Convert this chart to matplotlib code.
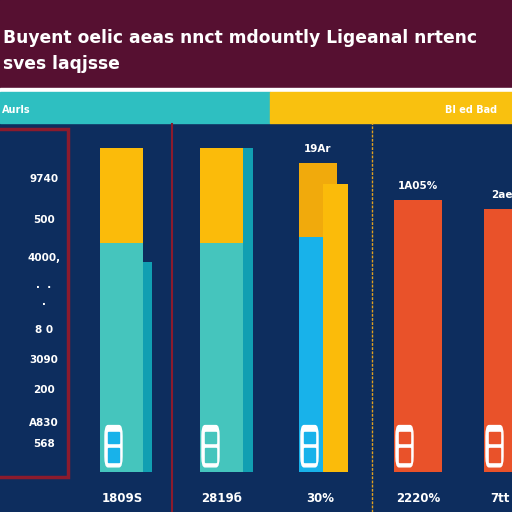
import matplotlib
matplotlib.use("Agg")
import matplotlib.pyplot as plt
from matplotlib.patches import Rectangle, FancyBboxPatch

# data (0 = bar base, 100 = top of panel)
teal_vals = [66.6, 66.6]
yellow_vals = [27.6, 27.6]
shadow_vals = [61.0, 94.2]
mid_back = 89.8
mid_front = 83.7
mid_blue = 68.3
red_vals = [79.1, 76.5]
top_labels = ["19Ar", "1A05%", "2ae"]
bottom_labels = ["1809S", "2819б", "30%", "2220%", "7tt"]
axis_labels = ["9740", "500", "4000,", ".  .", ".", "8 0", "3090", "200", "A830", "568"]
title_lines = ["Buyent oelic aeas nnct mdountly Ligeanal nrtenc", "sves laqjsse"]
band_left = "Aurls"
band_right = "Bl ed Bad"

W = 512.0
maroon = "#561031"
navy = "#0d2d5e"
teal = "#45c5bd"
dteal = "#119fb2"
yellow = "#fbbb0a"
yellow2 = "#f1aa0c"
blue = "#18b2ea"
orange = "#e9522a"
redline = "#8c1b2d"


def fx(px):
    return px / W


def fy(py):
    return 1 - py / W


fig = plt.figure(figsize=(5.12, 5.12), dpi=100)
fig.patch.set_facecolor(navy)

# header bands
fig.patches.append(Rectangle((0, fy(88)), 1, 88 / W, transform=fig.transFigure, color=maroon, zorder=0))
fig.patches.append(Rectangle((0, fy(92)), 1, 4 / W, transform=fig.transFigure, color="white", zorder=0))
fig.patches.append(Rectangle((0, fy(123)), fx(270), 31 / W, transform=fig.transFigure, color="#2ebfc1", zorder=0))
fig.patches.append(Rectangle((fx(270), fy(123)), 1 - fx(270), 31 / W, transform=fig.transFigure, color="#f9c10f", zorder=0))

fig.text(fx(3), fy(38), title_lines[0], color="white", fontsize=12.3, fontweight="bold", va="center", ha="left")
fig.text(fx(3), fy(64), title_lines[1], color="white", fontsize=12.3, fontweight="bold", va="center", ha="left")
fig.text(fx(2), fy(110), band_left, color="white", fontsize=7, fontweight="bold", va="center")
fig.text(fx(497), fy(110), band_right, color="white", fontsize=7, fontweight="bold", va="center", ha="right")

# left frame and separators
fig.patches.append(Rectangle((fx(-5), fy(477)), fx(73), (477 - 129) / W, transform=fig.transFigure,
                             fill=False, ec=redline, lw=2.5, zorder=1))
fig.lines.append(plt.Line2D([fx(172), fx(172)], [0, fy(124)], transform=fig.transFigure, color=redline, lw=1.5))
fig.lines.append(plt.Line2D([fx(372), fx(372)], [0, fy(123)], transform=fig.transFigure, color="#e0a020",
                            lw=1, ls=(0, (2, 1))))

label_y = [179, 220, 258, 285, 302, 330, 360, 390, 423, 444]
for lab, py in zip(axis_labels, label_y):
    fig.text(fx(44), fy(py), lab, color="white", fontsize=7.5, fontweight="bold", va="center", ha="center")

# bar axes
ax = fig.add_axes([0, fy(472), 1, (472 - 128) / W])
ax.set_xlim(0, W)
ax.set_ylim(0, 100)
ax.axis("off")
ax.patch.set_alpha(0)

ax.bar([143, 243], shadow_vals, width=[9, 10], align="edge", color=dteal)
ax.bar([100, 200], teal_vals, width=43, align="edge", color=teal)
ax.bar([100, 200], yellow_vals, bottom=teal_vals, width=43, align="edge", color=yellow)

ax.bar(299, mid_back, width=38, align="edge", color=yellow2)
ax.bar(323, mid_front, width=25, align="edge", color=yellow)
ax.bar(299, mid_blue, width=24, align="edge", color=blue)

ax.bar([394, 484], red_vals, width=[48, 40], align="edge", color=orange)

# little icons at the base of each bar
icon_x = [103, 200, 299, 394, 484]
icon_c = [blue, teal, blue, orange, orange]
for x0, c in zip(icon_x, icon_c):
    ax.add_patch(FancyBboxPatch((x0 + 2, 1.5), 17, 12, boxstyle="round,pad=0,rounding_size=3",
                                fc="white", ec="white", zorder=3))
    ax.add_patch(Rectangle((x0 + 5, 3), 11, 4, color=c, zorder=4))
    ax.add_patch(Rectangle((x0 + 5, 8.5), 11, 3, color=c, zorder=4))

top_x = [318, 418, 502]
top_v = [mid_back, red_vals[0], red_vals[1]]
for x, v, lab in zip(top_x, top_v, top_labels):
    ax.text(x, v + 2.5, lab, color="white", fontsize=7.5, fontweight="bold", ha="center", va="bottom")

bot_x = [122, 222, 320, 418, 500]
for x, lab in zip(bot_x, bottom_labels):
    fig.text(fx(x), fy(498), lab, color="white", fontsize=8.5, fontweight="bold", ha="center", va="center")

fig.savefig("out.png", dpi=100, facecolor=fig.get_facecolor())
